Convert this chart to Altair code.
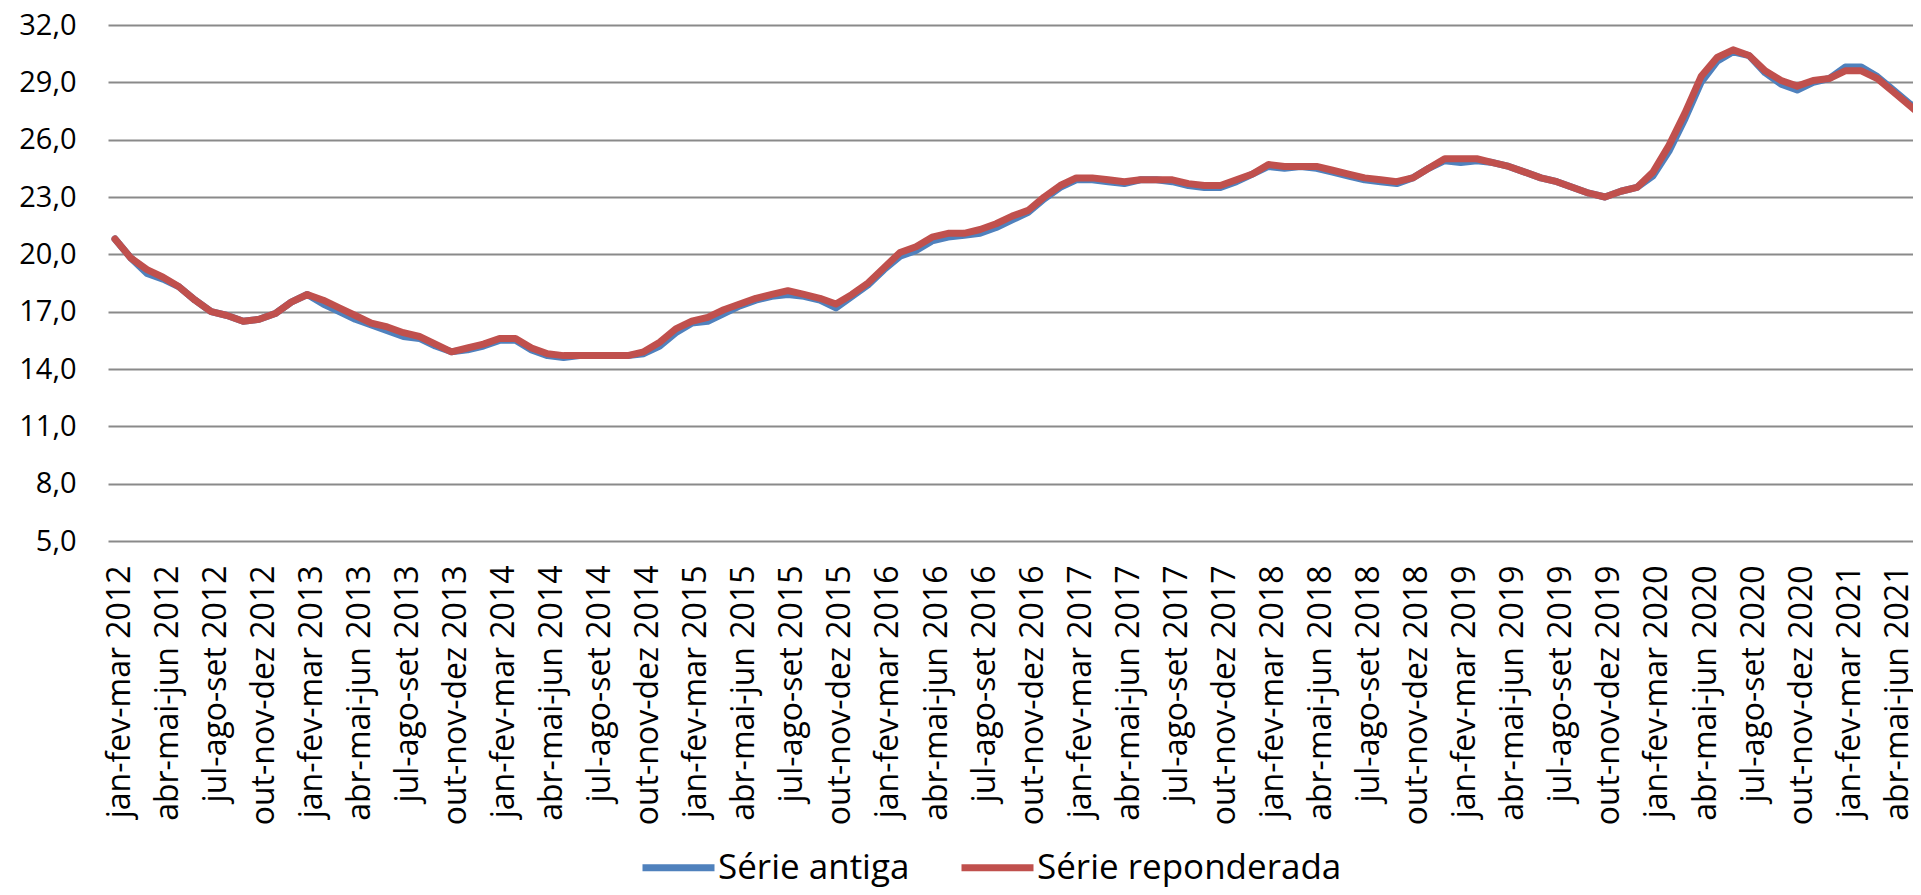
import altair as alt
import pandas as pd

# ---- data ----
months = ["jan", "fev", "mar", "abr", "mai", "jun", "jul", "ago", "set", "out", "nov", "dez"]
start_year = 2012

reponderada = [
    20.8, 19.8, 19.2, 18.8, 18.3, 17.6, 17.0, 16.8, 16.5, 16.6,
    16.9, 17.5, 17.9, 17.6, 17.2, 16.8, 16.4, 16.2, 15.9, 15.7,
    15.3, 14.9, 15.1, 15.3, 15.6, 15.6, 15.1, 14.8, 14.7, 14.7,
    14.7, 14.7, 14.7, 14.9, 15.4, 16.1, 16.5, 16.7, 17.1, 17.4,
    17.7, 17.9, 18.1, 17.9, 17.7, 17.4, 17.9, 18.5, 19.3, 20.1,
    20.4, 20.9, 21.1, 21.1, 21.3, 21.6, 22.0, 22.3, 23.0, 23.6,
    24.0, 24.0, 23.9, 23.8, 23.9, 23.9, 23.9, 23.7, 23.6, 23.6,
    23.9, 24.2, 24.7, 24.6, 24.6, 24.6, 24.4, 24.2, 24.0, 23.9,
    23.8, 24.0, 24.5, 25.0, 25.0, 25.0, 24.8, 24.6, 24.3, 24.0,
    23.8, 23.5, 23.2, 23.0, 23.3, 23.5, 24.3, 25.7, 27.4, 29.3,
    30.3, 30.7, 30.4, 29.6, 29.1, 28.8, 29.1, 29.2, 29.6, 29.6,
    29.2, 28.5, 27.8, 27.1,
]

antiga = [
    20.8, 19.8, 19.0, 18.7, 18.3, 17.6, 17.0, 16.8, 16.5, 16.6,
    16.9, 17.5, 17.9, 17.4, 17.0, 16.6, 16.3, 16.0, 15.7, 15.6,
    15.2, 14.9, 15.0, 15.2, 15.5, 15.5, 15.0, 14.7, 14.6, 14.7,
    14.7, 14.7, 14.7, 14.8, 15.2, 15.9, 16.4, 16.5, 16.9, 17.3,
    17.6, 17.8, 17.9, 17.8, 17.6, 17.2, 17.8, 18.4, 19.2, 19.9,
    20.2, 20.7, 20.9, 21.0, 21.1, 21.4, 21.8, 22.2, 22.9, 23.5,
    23.9, 23.9, 23.8, 23.7, 23.9, 23.9, 23.8, 23.6, 23.5, 23.5,
    23.8, 24.2, 24.6, 24.5, 24.6, 24.5, 24.3, 24.1, 23.9, 23.8,
    23.7, 24.0, 24.5, 24.9, 24.8, 24.9, 24.8, 24.6, 24.3, 24.0,
    23.8, 23.5, 23.2, 23.0, 23.3, 23.5, 24.1, 25.4, 27.1, 29.0,
    30.1, 30.6, 30.4, 29.5, 28.9, 28.6, 29.0, 29.2, 29.8, 29.8,
    29.3, 28.6, 27.9, 27.2,
]

series_names = ["Série antiga", "Série reponderada"]
series_colors = ["#4F81BD", "#C0504D"]
y_ticks = [5, 8, 11, 14, 17, 20, 23, 26, 29, 32]

n = len(reponderada)
idx = list(range(n))
period_labels = [
    f"{months[i % 12]}-{months[(i + 1) % 12]}-{months[(i + 2) % 12]} {start_year + (i + 2) // 12}"
    for i in idx
]
x_tick_values = list(range(0, 112, 3))

df = pd.DataFrame({
    "i": idx + idx,
    "periodo": period_labels + period_labels,
    "valor": antiga + reponderada,
    "serie": [series_names[0]] * n + [series_names[1]] * n,
})

label_array = "[" + ",".join("'" + s + "'" for s in period_labels) + "]"

x_enc = alt.X(
    "i:Q",
    scale=alt.Scale(domain=[-0.437, 112.23], nice=False, zero=False),
    axis=alt.Axis(
        values=x_tick_values,
        labelExpr=label_array + "[datum.value]",
        labelAngle=270,
        labelAlign="right",
        labelBaseline="middle",
        labelPadding=24,
        labelOffset=4,
        labelFont="Open Sans",
        labelFontSize=32,
        labelColor="black",
        labelLimit=500,
        labelOverlap=False,
        labelFlush=False,
        ticks=False,
        domain=False,
        grid=False,
        title=None,
    ),
)

y_enc = alt.Y(
    "valor:Q",
    scale=alt.Scale(domain=[5, 32], nice=False, zero=False),
    axis=alt.Axis(
        values=y_ticks,
        labelExpr="replace(format(datum.value, '.1f'), '.', ',')",
        labelFont="Open Sans",
        labelFontSize=29,
        labelColor="black",
        labelPadding=32,
        grid=True,
        gridColor="#8a8a8a",
        gridWidth=2,
        ticks=False,
        domain=False,
        title=None,
    ),
)

color_enc = alt.Color(
    "serie:N",
    scale=alt.Scale(domain=series_names, range=series_colors),
    legend=alt.Legend(
        orient="none",
        legendX=531,
        legendY=803,
        direction="horizontal",
        title=None,
        symbolType="stroke",
        symbolStrokeWidth=7,
        symbolSize=5184,
        labelFont="Open Sans",
        labelFontSize=35,
        labelColor="black",
        labelLimit=600,
        labelOffset=0,
        columnPadding=37,
        padding=0,
    ),
)

base = alt.Chart(df).mark_line(
    strokeWidth=7, clip=True, strokeCap="round", strokeJoin="round"
).encode(x=x_enc, y=y_enc, color=color_enc)

layer_antiga = base.transform_filter(alt.datum.serie == series_names[0])
layer_repond = base.transform_filter(alt.datum.serie == series_names[1])

chart = alt.layer(layer_antiga, layer_repond).properties(
    width=1805,
    height=516,
    autosize="none",
    padding={"left": 100, "top": 17, "right": 0, "bottom": 346},
    background="white",
).configure_view(stroke=None)

chart.save("out.html", embed_options={"renderer": "svg", "actions": False})
